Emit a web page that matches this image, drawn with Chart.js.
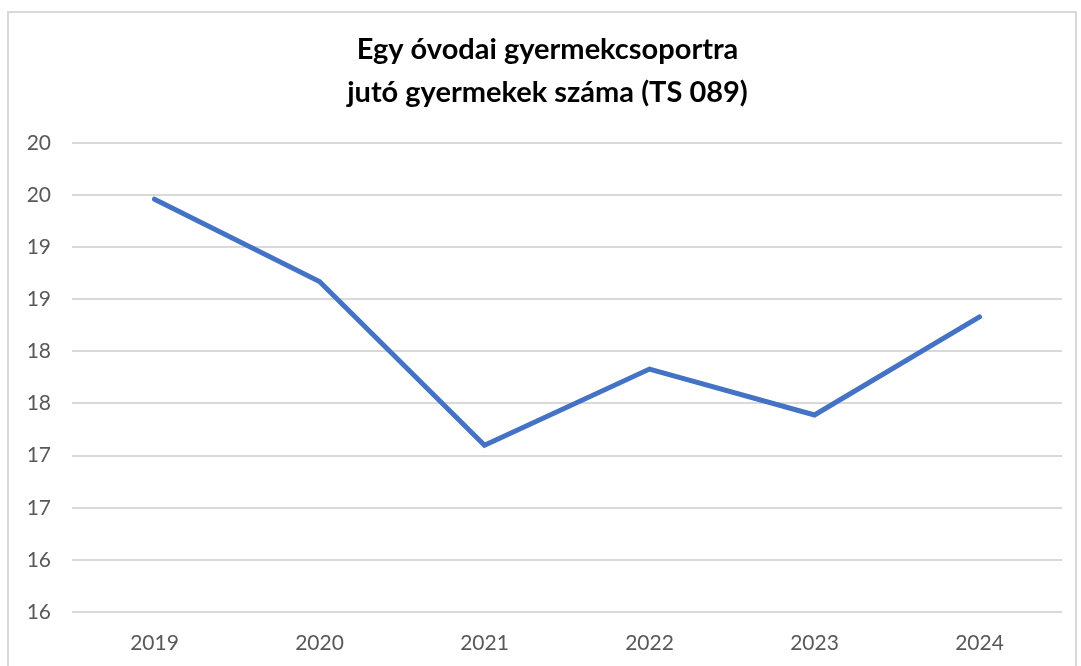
<!DOCTYPE html>
<html lang="hu">
<head>
  <meta charset="UTF-8">
  <title>Egy óvodai gyermekcsoportra jutó gyermekek száma</title>
  <script src="https://cdn.jsdelivr.net/npm/chart.js"></script>
  <style>
    html, body {
      margin: 0;
      padding: 0;
      background: #ffffff;
      overflow: hidden;
    }
    #frame {
      position: absolute;
      left: 7px;
      top: 11px;
      width: 1066px;
      height: 680px;
      border: 2px solid #d9d9d9;
    }
    #lineChart {
      display: block;
    }
  </style>
</head>
<body>
  <div id="frame">
    <canvas id="lineChart" width="1077" height="653"></canvas>
  </div>

  <script>
    // adatok
    const years = ['2019', '2020', '2021', '2022', '2023', '2024'];
    const childrenPerGroup = [19.46, 18.67, 17.10, 17.83, 17.39, 18.33];
    const yTickLabels = ['16', '16', '17', '17', '18', '18', '19', '19', '20', '20'];
    const titleLines = ['Egy óvodai gyermekcsoportra', 'jutó gyermekek száma (TS 089)'];

    const ctx = document.getElementById('lineChart').getContext('2d');
    new Chart(ctx, {
      type: 'line',
      data: {
        labels: years,
        datasets: [
          {
            label: 'Gyermekek száma',
            data: childrenPerGroup,
            yAxisID: 'y',
            borderColor: '#4472C4',
            borderWidth: 5,
            borderCapStyle: 'round',
            borderJoinStyle: 'miter',
            pointRadius: 0,
            tension: 0,
            fill: false
          }
        ]
      },
      options: {
        responsive: false,
        animation: false,
        layout: {
          padding: { left: 0, right: 0, top: 0, bottom: 14 }
        },
        plugins: {
          legend: { display: false },
          tooltip: { enabled: false },
          title: {
            display: true,
            text: titleLines,
            color: '#000000',
            font: { family: 'Lato', size: 29, weight: 'bold', lineHeight: 1.48 },
            padding: { top: 15, bottom: 29 }
          }
        },
        scales: {
          x: {
            offset: true,
            afterFit: function(axis) { axis.height = 40; },
            grid: { display: false, drawTicks: false },
            border: { display: false },
            ticks: {
              color: '#595959',
              font: { family: 'Lato', size: 21 },
              padding: 19
            }
          },
          y: {
            min: 15.5,
            max: 20,
            afterFit: function(axis) { axis.width = 63; },
            grid: {
              color: '#d9d9d9',
              lineWidth: 2,
              drawTicks: false
            },
            border: { display: false },
            ticks: {
              stepSize: 0.5,
              color: '#595959',
              font: { family: 'Lato', size: 21 },
              padding: 21,
              callback: function(value, index) { return yTickLabels[index]; }
            }
          },
          // empty right margin so the title sits where it does in the original
          yRight: {
            position: 'right',
            min: 15.5,
            max: 20,
            afterFit: function(axis) { axis.width = 24; },
            grid: { display: false, drawTicks: false },
            border: { display: false },
            ticks: { display: false }
          }
        }
      }
    });
  </script>
</body>
</html>
